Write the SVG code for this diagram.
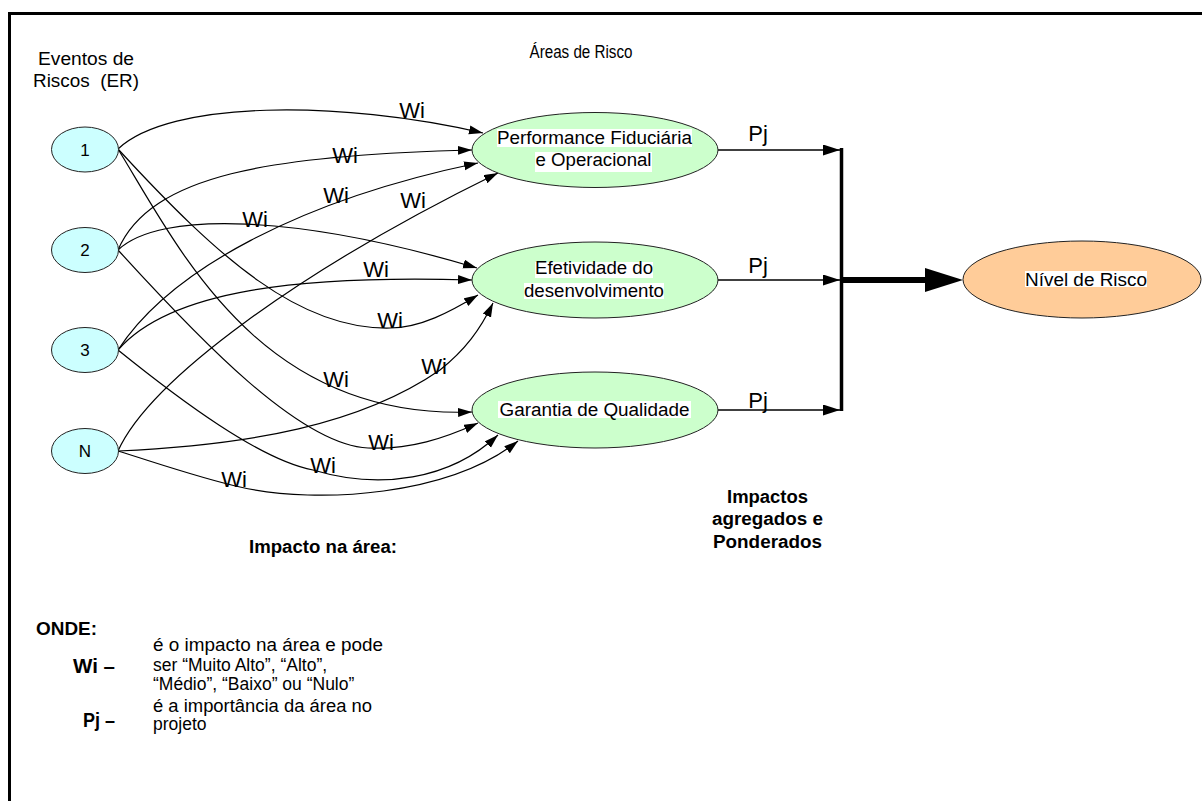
<svg xmlns="http://www.w3.org/2000/svg" width="1202" height="801" viewBox="0 0 1202 801">
  <style>
    text { font-family: "Liberation Sans", Arial, sans-serif; fill: #000; }
    .src { fill: #CCFFFF; stroke: #222; stroke-width: 1; }
    .area { fill: #CCFFCC; stroke: #222; stroke-width: 1; }
    .result { fill: #FFCC99; stroke: #222; stroke-width: 1; }
    .lbl { font-size: 18px; text-anchor: middle; }
    .num { font-size: 17px; text-anchor: middle; }
    .w { font-size: 22px; text-anchor: middle; }
    .bold { font-weight: bold; }
    .edge { fill: none; stroke: #000; stroke-width: 1.2; marker-end: url(#arr); }
    .pj { fill: none; stroke: #000; stroke-width: 1.6; marker-end: url(#arrPj); }
    .bg { fill: #fff; }
  </style>
  <defs>
    <marker id="arr" markerUnits="userSpaceOnUse" markerWidth="15" markerHeight="10" refX="14" refY="4.5" orient="auto">
      <path d="M0,0 L14,4.5 L0,9 z" fill="#000"/>
    </marker>
    <marker id="arrPj" markerUnits="userSpaceOnUse" markerWidth="18" markerHeight="12" refX="17" refY="5.5" orient="auto">
      <path d="M0,0 L17,5.5 L0,11 z" fill="#000"/>
    </marker>
  </defs>

  <rect width="1202" height="801" fill="#fff"/>

  <!-- frame -->
  <path d="M9.5,801 L9.5,13.5 L1202,13.5" fill="none" stroke="#000" stroke-width="3"/>

  <!-- headings -->
  <text class="lbl" x="86" y="65" textLength="96" lengthAdjust="spacingAndGlyphs">Eventos de</text>
  <text class="lbl" x="86" y="87" textLength="106" lengthAdjust="spacingAndGlyphs" xml:space="preserve">Riscos  (ER)</text>
  <text x="581" y="58" font-size="17.5" text-anchor="middle" textLength="103" lengthAdjust="spacingAndGlyphs">Áreas de Risco</text>

  <!-- connectors -->
  <g id="connectors">
    <path class="edge" d="M118,149 C170,100 340,100 483,133"/>
    <path class="edge" d="M118,250 C150,175 270,155 472,150"/>
    <path class="edge" d="M118,350 C170,270 300,200 478,163"/>
    <path class="edge" d="M118,451 C150,380 300,270 498,173"/>
    <path class="edge" d="M118,250 C160,210 300,215 477,268"/>
    <path class="edge" d="M118,350 C170,290 300,275 472,280"/>
    <path class="edge" d="M118,149 C220,260 300,330 390,328 C420,328 450,312 478,295"/>
    <path class="edge" d="M118,451 C250,445 360,425 440,370 C465,350 480,330 493,303"/>
    <path class="edge" d="M118,149 C180,250 260,420 472,412"/>
    <path class="edge" d="M118,250 C200,340 300,445 368,448 C410,450 445,438 478,423"/>
    <path class="edge" d="M118,350 C180,400 260,460 313,470 C380,490 450,480 498,435"/>
    <path class="edge" d="M118,451 C160,464 200,478 240,487 C320,505 450,495 518,441"/>

    <!-- weighted area links -->
    <path class="pj" d="M718,150 L840,150"/>
    <path class="pj" d="M718,280 L840,280"/>
    <path class="pj" d="M718,410 L840,410"/>
    <path d="M841.5,148 L841.5,411" stroke="#000" stroke-width="3.5" fill="none"/>
    <path d="M841,280 L928,280" stroke="#000" stroke-width="6" fill="none"/>
    <path d="M925,268 L963,280 L925,292 z" fill="#000"/>

    <!-- Wi labels -->
    <text class="w" x="412" y="118">Wi</text>
    <text class="w" x="345" y="163">Wi</text>
    <text class="w" x="336" y="203">Wi</text>
    <text class="w" x="413" y="208">Wi</text>
    <text class="w" x="255" y="227">Wi</text>
    <text class="w" x="376" y="277">Wi</text>
    <text class="w" x="390" y="328">Wi</text>
    <text class="w" x="434" y="374">Wi</text>
    <text class="w" x="336" y="387">Wi</text>
    <text class="w" x="381" y="450">Wi</text>
    <text class="w" x="323" y="473">Wi</text>
    <text class="w" x="234" y="487">Wi</text>

    <!-- Pj labels -->
    <text class="w" x="758" y="141">Pj</text>
    <text class="w" x="758" y="273">Pj</text>
    <text class="w" x="758" y="408">Pj</text>
  </g>

  <!-- risk events -->
  <g id="er1">
    <ellipse class="src" cx="85" cy="149.5" rx="33.5" ry="22.5"/>
    <text class="num" x="85" y="155.5">1</text>
  </g>
  <g id="er2">
    <ellipse class="src" cx="85" cy="250" rx="33.5" ry="22.5"/>
    <text class="num" x="85" y="256">2</text>
  </g>
  <g id="er3">
    <ellipse class="src" cx="85" cy="350" rx="33.5" ry="22.5"/>
    <text class="num" x="85" y="356">3</text>
  </g>
  <g id="erN">
    <ellipse class="src" cx="85" cy="451" rx="33.5" ry="22.5"/>
    <text class="num" x="85" y="457">N</text>
  </g>

  <!-- risk areas -->
  <g id="area-performance">
    <ellipse class="area" cx="595" cy="150" rx="123" ry="37.5"/>
    <rect class="bg" x="497" y="129" width="195" height="18"/>
    <rect class="bg" x="535" y="152" width="117" height="20"/>
    <text class="lbl" x="594.5" y="144" textLength="195" lengthAdjust="spacingAndGlyphs">Performance Fiduciária</text>
    <text class="lbl" x="593.5" y="166" textLength="116" lengthAdjust="spacingAndGlyphs">e Operacional</text>
  </g>
  <g id="area-efetividade">
    <ellipse class="area" cx="595" cy="280" rx="123" ry="38"/>
    <rect class="bg" x="535" y="262" width="118" height="16"/>
    <rect class="bg" x="524" y="283" width="140" height="16"/>
    <text class="lbl" x="594" y="274" textLength="118" lengthAdjust="spacingAndGlyphs">Efetividade do</text>
    <text class="lbl" x="594" y="297" textLength="140" lengthAdjust="spacingAndGlyphs">desenvolvimento</text>
  </g>
  <g id="area-garantia">
    <ellipse class="area" cx="595" cy="410" rx="123" ry="38"/>
    <rect class="bg" x="498" y="401" width="193" height="17"/>
    <text class="lbl" x="594.5" y="416" textLength="190" lengthAdjust="spacingAndGlyphs">Garantia de Qualidade</text>
  </g>

  <!-- result -->
  <g id="nivel-risco">
    <ellipse class="result" cx="1082" cy="279.5" rx="119" ry="38.5"/>
    <rect class="bg" x="1025" y="271" width="122" height="16"/>
    <text class="lbl" x="1086" y="286" textLength="122" lengthAdjust="spacingAndGlyphs">Nível de Risco</text>
  </g>

  <!-- captions -->
  <text class="bold" x="323" y="553" font-size="18" text-anchor="middle" textLength="148" lengthAdjust="spacingAndGlyphs">Impacto na área:</text>
  <g font-size="18" font-weight="bold" text-anchor="middle">
    <text x="767.5" y="503" textLength="81" lengthAdjust="spacingAndGlyphs">Impactos</text>
    <text x="767.5" y="525" textLength="111" lengthAdjust="spacingAndGlyphs">agregados e</text>
    <text x="767.5" y="548" textLength="109" lengthAdjust="spacingAndGlyphs">Ponderados</text>
  </g>

  <!-- legend -->
  <text class="bold" x="36" y="635" font-size="18" textLength="61" lengthAdjust="spacingAndGlyphs">ONDE:</text>
  <text class="bold" x="73" y="673" font-size="21" textLength="42" lengthAdjust="spacingAndGlyphs">Wi –</text>
  <g font-size="17.5">
    <text x="153" y="651" textLength="230" lengthAdjust="spacingAndGlyphs">é o impacto na área e pode</text>
    <text x="153" y="671">ser “Muito Alto”, “Alto”,</text>
    <text x="153" y="690">“Médio”, “Baixo” ou “Nulo”</text>
  </g>
  <text class="bold" x="83" y="727" font-size="21" textLength="32" lengthAdjust="spacingAndGlyphs">Pj –</text>
  <g font-size="17.5">
    <text x="153" y="712" textLength="219" lengthAdjust="spacingAndGlyphs">é a importância da área no</text>
    <text x="153" y="730">projeto</text>
  </g>
</svg>
